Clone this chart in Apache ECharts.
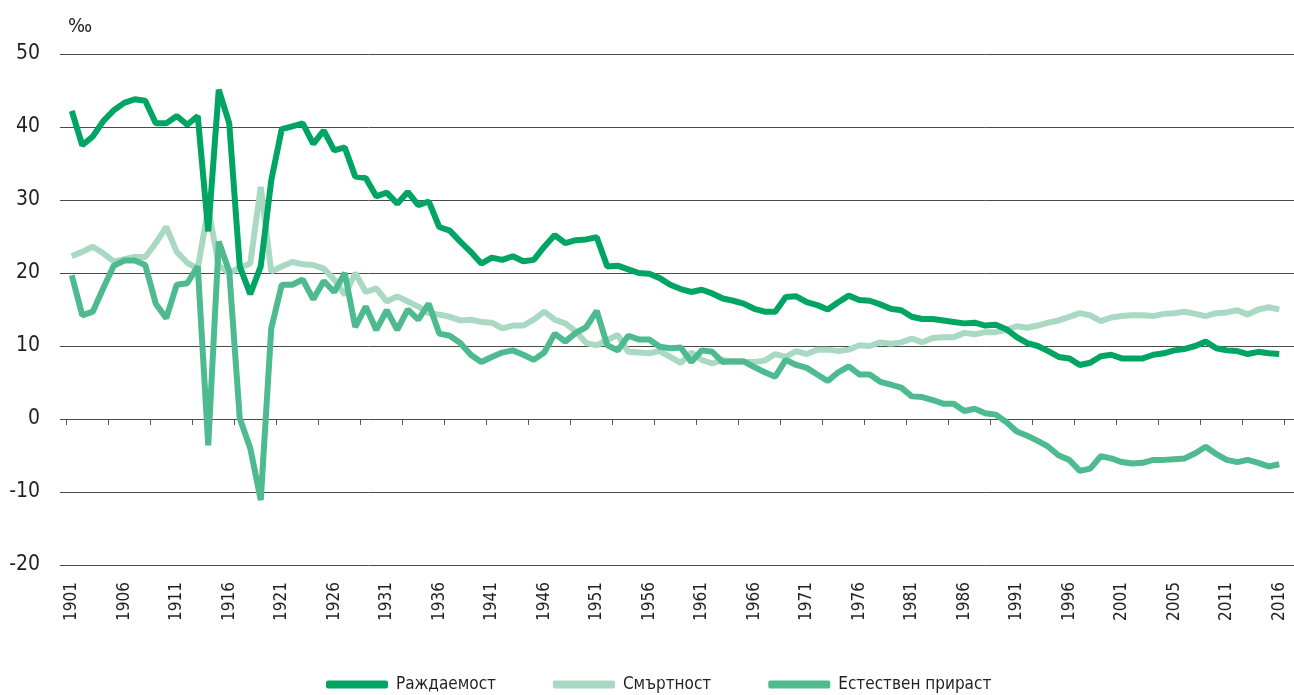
<!DOCTYPE html>
<html>
<head>
<meta charset="utf-8">
<script src="https://cdn.jsdelivr.net/npm/echarts@6/dist/echarts.min.js"></script>
<style>
html,body{margin:0;padding:0;background:#fff;}
#chart{width:1294px;height:695px;}
</style>
</head>
<body>
<div id="chart"></div>
<script>
const years = ["1901","1902","1903","1904","1905","1906","1907","1908","1909","1910",
"1911","1912","1913","1914","1915","1916","1917","1918","1919","1920",
"1921","1922","1923","1924","1925","1926","1927","1928","1929","1930",
"1931","1932","1933","1934","1935","1936","1937","1938","1939","1940",
"1941","1942","1943","1944","1945","1946","1947","1948","1949","1950",
"1951","1952","1953","1954","1955","1956","1957","1958","1959","1960",
"1961","1962","1963","1964","1965","1966","1967","1968","1969","1970",
"1971","1972","1973","1974","1975","1976","1977","1978","1979","1980",
"1981","1982","1983","1984","1985","1986","1987","1988","1989","1990",
"1991","1992","1993","1994","1995","1996","1997","1998","1999","2000",
"2001","2002","2003","2004","2005","2005","2007","2008","2009","2010",
"2011","2012","2013","2014","2015","2016"];

const births = [42.2,37.5,38.7,40.8,42.3,43.3,43.8,43.6,40.5,40.5,
41.5,40.3,41.5,25.7,45.1,40.5,20.9,17.1,20.9,32.7,
39.7,40.1,40.5,37.7,39.5,36.8,37.2,33.2,33.0,30.5,
31.0,29.5,31.1,29.3,29.8,26.3,25.8,24.3,22.9,21.3,
22.1,21.8,22.3,21.6,21.8,23.6,25.2,24.1,24.5,24.6,
24.9,20.9,21.0,20.5,20.0,19.9,19.3,18.4,17.8,17.4,
17.7,17.2,16.5,16.2,15.8,15.1,14.7,14.7,16.7,16.8,
16.0,15.6,15.0,16.0,16.9,16.3,16.2,15.7,15.1,14.9,
14.0,13.7,13.7,13.5,13.3,13.1,13.2,12.8,12.9,12.3,
11.2,10.4,10.0,9.3,8.5,8.3,7.4,7.7,8.6,8.8,
8.3,8.3,8.3,8.8,9.0,9.4,9.6,10.0,10.6,9.7,
9.4,9.3,8.9,9.2,9.0,8.9];

const deaths = [22.3,22.9,23.6,22.7,21.6,21.9,22.2,22.2,24.1,26.3,
22.9,21.4,20.6,28.9,21.0,20.0,20.7,21.3,31.8,20.2,
20.9,21.5,21.2,21.1,20.6,19.1,17.0,20.0,17.4,17.9,
16.1,16.8,16.1,15.4,14.5,14.3,14.0,13.5,13.6,13.3,
13.2,12.4,12.8,12.8,13.6,14.7,13.6,13.1,12.0,10.4,
10.1,10.8,11.5,9.2,9.1,9.0,9.3,8.5,7.7,9.1,
8.1,7.6,8.1,7.8,7.8,7.8,8.0,8.9,8.5,9.3,
8.9,9.5,9.5,9.3,9.5,10.1,10.0,10.5,10.3,10.5,
11.0,10.5,11.1,11.2,11.2,11.8,11.6,11.9,11.9,12.2,
12.7,12.5,12.8,13.2,13.5,14.0,14.5,14.2,13.4,13.9,
14.1,14.2,14.2,14.1,14.4,14.5,14.7,14.4,14.1,14.5,
14.6,14.9,14.3,15.0,15.3,15.0];

const natural = [19.7,14.2,14.7,17.9,21.0,21.7,21.7,21.1,15.8,13.8,
18.4,18.6,20.9,-3.6,24.3,20.2,0.1,-4.0,-11.1,12.4,
18.4,18.4,19.1,16.4,18.9,17.4,20.0,12.6,15.4,12.2,
14.9,12.2,15.0,13.6,15.8,11.7,11.4,10.4,8.8,7.8,
8.5,9.1,9.4,8.8,8.1,9.1,11.7,10.6,11.8,12.6,
14.8,10.1,9.4,11.4,10.9,10.9,9.9,9.7,9.8,7.8,
9.4,9.2,7.8,7.9,7.9,7.1,6.4,5.8,8.1,7.4,
7.0,6.1,5.2,6.4,7.2,6.1,6.1,5.1,4.7,4.3,
3.1,3.0,2.6,2.1,2.1,1.1,1.4,0.8,0.6,-0.4,
-1.7,-2.3,-3.0,-3.8,-5.0,-5.6,-7.1,-6.8,-5.1,-5.4,
-5.9,-6.1,-6.0,-5.6,-5.6,-5.5,-5.4,-4.7,-3.8,-4.8,
-5.6,-5.9,-5.6,-6.0,-6.5,-6.2];

const seriesNames = ["Раждаемост", "Смъртност", "Естествен прираст"];
const unitLabel = "‰";

const FONT = "'Liberation Sans Narrow', 'DejaVu Sans Condensed', 'Roboto Condensed', 'Noto Sans', sans-serif";
const cBirth = "#00a563", cDeath = "#a9d9c3", cNat = "#4dbb8f";

const chart = echarts.init(document.getElementById('chart'), null, {renderer: 'canvas'});
chart.setOption({
  animation: false,
  backgroundColor: '#ffffff',
  title: {
    text: unitLabel, left: 63, top: 12,
    textStyle: {fontFamily: FONT, fontSize: 20, fontWeight: 'normal', color: '#231f20'}
  },
  grid: [
    {left: 60, right: 0, top: 54, bottom: 130},
    {left: 66.5, right: 9.5, top: 54, bottom: 130}
  ],
  xAxis: [
    {gridIndex: 0, type: 'value', show: false, min: 0, max: 1},
    {gridIndex: 1, type: 'category', data: years, boundaryGap: true,
     axisLine: {show: false},
     axisTick: {show: true, interval: 3, length: 6, lineStyle: {color: '#555', width: 1}},
     axisLabel: {interval: 4, rotate: 90, margin: 17, fontFamily: FONT, fontSize: 17, color: '#231f20'},
     splitLine: {show: false}}
  ],
  yAxis: [
    {gridIndex: 0, type: 'value', min: -20, max: 50, interval: 10,
     axisLine: {show: false}, axisTick: {show: false},
     axisLabel: {margin: 20, fontFamily: FONT, fontSize: 21, color: '#231f20'},
     splitLine: {show: true, lineStyle: {color: '#4a4a4a', width: 1}}},
    {gridIndex: 1, type: 'value', min: -20, max: 50, interval: 10, show: false,
     splitLine: {show: false}}
  ],
  legend: {
    data: seriesNames,
    left: 321, top: 671,
    itemWidth: 62, itemHeight: 8, itemGap: 57,
    icon: 'roundRect',
    textStyle: {fontFamily: FONT, fontSize: 17, color: '#231f20', padding: [0,0,0,3]}
  },
  series: [
    {name: seriesNames[1], type: 'line', xAxisIndex: 1, yAxisIndex: 1, data: deaths,
     showSymbol: false, symbol: 'none', z: 2,
     lineStyle: {color: cDeath, width: 6}, itemStyle: {color: cDeath}},
    {name: seriesNames[0], type: 'line', xAxisIndex: 1, yAxisIndex: 1, data: births,
     showSymbol: false, symbol: 'none', z: 3,
     lineStyle: {color: cBirth, width: 6}, itemStyle: {color: cBirth}},
    {name: seriesNames[2], type: 'line', xAxisIndex: 1, yAxisIndex: 1, data: natural,
     showSymbol: false, symbol: 'none', z: 4,
     lineStyle: {color: cNat, width: 6}, itemStyle: {color: cNat}}
  ]
});
</script>
</body>
</html>
